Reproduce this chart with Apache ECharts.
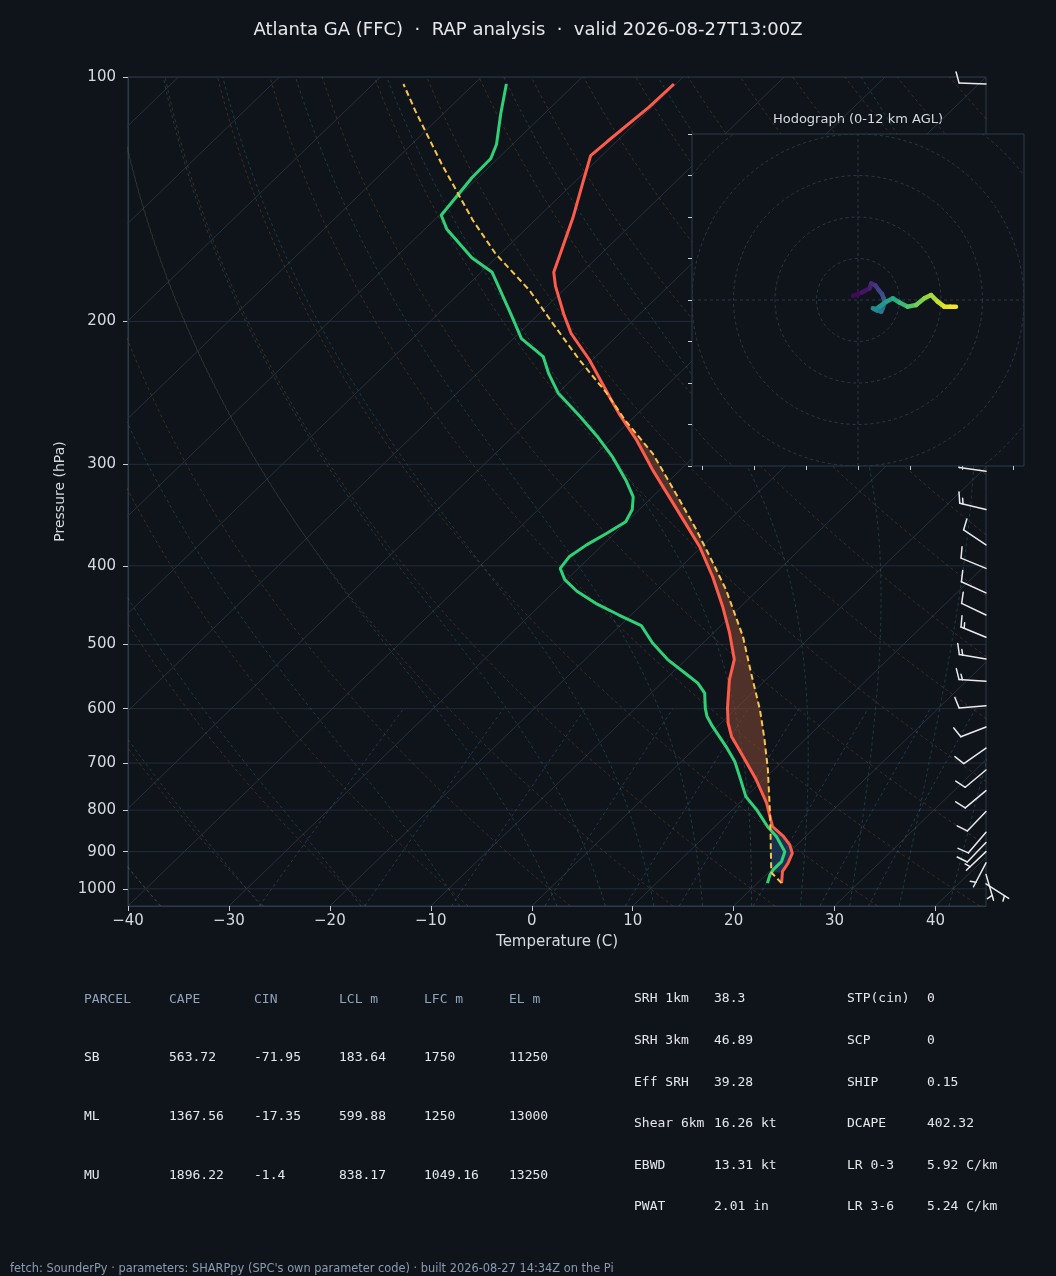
<!DOCTYPE html>
<html><head><meta charset="utf-8">
<script src="https://cdn.jsdelivr.net/npm/echarts@6/dist/echarts.min.js"></script>
<style>html,body{margin:0;padding:0;background:#0f141b;}#c{width:1056px;height:1276px;}</style>
</head><body><div id="c"></div>
<script>
// ---------------- data ----------------
const tempP = [984, 952, 930, 904, 883, 862, 838, 818, 784, 734, 687, 649, 625, 599, 553, 522, 484, 449, 413, 379, 345, 305, 280, 260, 250, 223, 207, 196, 181, 174, 162, 149, 135, 125, 120, 109, 102];
const tempT = [22.4, 21.3, 21.0, 20.4, 19.3, 17.8, 15.7, 14.6, 12.7, 9.3, 5.6, 2.4, 0.7, -0.9, -3.6, -5.2, -8.4, -11.8, -15.8, -20.2, -25.6, -32.7, -37.4, -41.8, -44.0, -50.3, -54.8, -57.5, -61.2, -62.8, -64.5, -66.5, -69.1, -71.1, -70.9, -70.3, -70.2];
const dewP = [984, 961, 947, 926, 900, 862, 838, 799, 770, 727, 697, 668, 631, 613, 599, 574, 558, 543, 522, 498, 474, 460, 445, 430, 416, 403, 390, 377, 365, 353, 341, 329, 314, 294, 277, 262, 245, 232, 221, 210, 195, 174, 167, 154, 148, 133, 126, 121, 111, 102];
const dewT = [21.0, 20.4, 20.2, 20.2, 19.5, 17.1, 15.2, 12.4, 10.0, 7.3, 5.3, 2.9, -0.5, -2.1, -3.1, -4.7, -6.4, -8.6, -11.8, -15.0, -17.9, -21.2, -24.7, -27.8, -30.2, -31.8, -32.1, -31.6, -30.8, -30.1, -30.7, -31.9, -34.3, -38.0, -41.7, -45.4, -50.0, -52.9, -55.2, -59.2, -63.0, -68.9, -72.4, -77.8, -79.8, -80.6, -80.7, -81.6, -84.3, -86.8];
const parcelP = [984, 955, 818, 713, 655, 602, 543, 489, 428, 397, 361, 326, 291, 265, 245, 223, 201, 183, 165, 150, 128, 110, 102];
const parcelT = [22.4, 20.3, 14.6, 9.4, 6.0, 2.5, -2.1, -6.7, -13.2, -17.2, -22.3, -28.0, -34.4, -40.5, -45.2, -51.3, -57.7, -63.4, -70.5, -76.2, -85.0, -93.1, -97.0];
// wind barbs (kt)
const windP = [102, 306, 341, 377, 403, 432, 460, 490, 521, 555, 595, 632, 671, 714, 757, 803, 852, 877, 900, 929, 960, 986];
const windU = [10.0, 9.9, 14.6, 8.3, 9.2, 9.1, 9.0, 13.9, 14.8, 15.0, 10.0, 9.3, 8.2, 7.7, 7.7, 6.9, 6.5, 6.9, 3.6, 2.3, -1.4, -4.2];
const windV = [-0.4, -1.4, -3.5, -5.6, -3.8, -4.1, -4.3, -5.7, -2.4, -0.9, 0.8, 3.6, 5.7, 6.4, 6.4, 7.2, 7.6, 7.2, 3.4, 4.4, 4.8, 2.7];
// hodograph
const hodoU = [-1.2, 0.9, 2.8, 3.2, 4.2, 5.0, 5.8, 6.2, 6.4, 6.0, 5.6, 4.5, 3.6, 4.2, 5.2, 6.8, 8.4, 10.0, 12.0, 14.0, 16.0, 17.6, 19.2, 20.8, 22.2, 23.6];
const hodoV = [1.0, 1.8, 2.8, 4.0, 3.5, 2.4, 1.4, 0.4, -0.7, -1.9, -2.8, -2.5, -2.0, -2.2, -1.6, -0.4, 0.4, -0.6, -1.6, -1.2, 0.4, 1.2, -0.4, -1.6, -1.6, -1.6];
const hodoH = [0, 0.4, 0.8, 1.2, 1.7, 2.2, 2.7, 3.1, 3.5, 4.0, 4.5, 5.0, 5.4, 5.7, 6.0, 6.5, 7.0, 7.7, 8.4, 9.2, 9.8, 10.2, 10.8, 11.3, 11.7, 12.0];
const hodoRings = [10, 20, 30, 40, 50];
const hodoXTicks = [-37.5, -25, -12.5, 0, 12.5, 25, 37.5];
const hodoYTicks = [-40, -30, -20, -10, 0, 10, 20, 30, 40];
// axes
const xTicks = [-40, -30, -20, -10, 0, 10, 20, 30, 40];
const pTicks = [100, 200, 300, 400, 500, 600, 700, 800, 900, 1000];
// background line families (MetPy defaults)
const isoT = [-130, -120, -110, -100, -90, -80, -70, -60, -50, -40, -30, -20, -10, 0, 10, 20, 30, 40];
const dryT0 = [-40, -30, -20, -10, 0, 10, 20, 30, 40, 50, 60, 70, 80, 90, 100, 110, 120, 130, 140, 150, 160, 170, 180, 190, 200, 210, 220, 230, 240];
const moistT0 = [-40, -30, -20, -10, 0, 5, 10, 15, 20, 25, 30, 35, 40, 45, 50, 55, 60, 65, 70, 75, 80, 85, 90, 95];
const mixW = [0.0004, 0.001, 0.002, 0.004, 0.007, 0.01, 0.016, 0.024, 0.032];
// tables
const parcelHead = ['PARCEL', 'CAPE', 'CIN', 'LCL m', 'LFC m', 'EL m'];
const parcelRows = [
  ['SB', '563.72', '-71.95', '183.64', '1750', '11250'],
  ['ML', '1367.56', '-17.35', '599.88', '1250', '13000'],
  ['MU', '1896.22', '-1.4', '838.17', '1049.16', '13250']
];
const paramRows = [
  ['SRH 1km', '38.3', 'STP(cin)', '0'],
  ['SRH 3km', '46.89', 'SCP', '0'],
  ['Eff SRH', '39.28', 'SHIP', '0.15'],
  ['Shear 6km', '16.26 kt', 'DCAPE', '402.32'],
  ['EBWD', '13.31 kt', 'LR 0-3', '5.92 C/km'],
  ['PWAT', '2.01 in', 'LR 3-6', '5.24 C/km']
];
const titleText = 'Atlanta GA (FFC)  \u00b7  RAP analysis  \u00b7  valid 2026-08-27T13:00Z';
const footerText = "fetch: SounderPy \u00b7 parameters: SHARPpy (SPC's own parameter code) \u00b7 built 2026-08-27 14:34Z on the Pi";

// ---------------- geometry helpers ----------------
const P_BOT = 1050, P_TOP = 100, XMIN = -40, XMAX = 45;
const LOGB = Math.log10(P_BOT), LOGT = Math.log10(P_TOP);
function skewX(T, p) { return T + (XMAX - XMIN) * (LOGB - Math.log10(p)) / (LOGB - LOGT); }
function pt(T, p) { return [skewX(T, p), Math.log10(p)]; }
const BG = '#0f141b';
const FRAME = '#2f3a48';
const TXT = '#d6dae0';

const pLine = [];
for (let i = 0; i <= 60; i++) pLine.push(Math.pow(10, LOGB - (LOGB - LOGT) * i / 60));

// physics for reference lines
const RD = 287.04749, CP = 1004.6662, LV = 2.50084e6, EPS = 0.6219569;
function dTdp(p, T) {
  const es = 6.112 * Math.exp(17.67 * (T - 273.15) / (T - 29.65));
  const rs = EPS * es / (p - es);
  return (RD * T + LV * rs) / (CP + LV * LV * rs * EPS / (RD * T * T)) / p;
}
function moistT(t0, p) {
  let T = t0 + 273.15, pc = 1000;
  const n = Math.max(1, Math.ceil(Math.abs(p - pc) / 4));
  const h = (p - pc) / n;
  for (let k = 0; k < n; k++) {
    const k1 = dTdp(pc, T), k2 = dTdp(pc + h / 2, T + h * k1 / 2), k3 = dTdp(pc + h / 2, T + h * k2 / 2), k4 = dTdp(pc + h, T + h * k3);
    T += h * (k1 + 2 * k2 + 2 * k3 + k4) / 6; pc += h;
  }
  return T - 273.15;
}
function mixTd(w, p) {
  const e = p * w / (EPS + w); const l = Math.log(e / 6.112);
  return 243.5 * l / (17.67 - l);
}

const series = [];
function bgLine(data, color, dashed, width) {
  series.push({ type: 'line', xAxisIndex: 0, yAxisIndex: 0, data, symbol: 'none', silent: true, z: 1,
    lineStyle: { color, width: width || 1, type: dashed ? [3, 3] : 'solid' }, animation: false });
}
pTicks.forEach(p => bgLine([[XMIN, Math.log10(p)], [XMAX, Math.log10(p)]], '#232c38', false, 1));
isoT.forEach(T => bgLine([pt(T, P_BOT), pt(T, P_TOP)], '#28313d', false, 1));
dryT0.forEach(t0 => bgLine(pLine.map(p => pt((t0 + 273.15) * Math.pow(p / 1000, 0.2857) - 273.15, p)), 'rgba(170,110,60,0.3)', true, 1));
moistT0.forEach(t0 => bgLine(pLine.map(p => pt(moistT(t0, p), p)), 'rgba(70,140,150,0.32)', true, 1));
const mixP = []; for (let i = 0; i <= 10; i++) mixP.push(P_BOT - (P_BOT - 600) * i / 10);
mixW.forEach(w => bgLine(mixP.map(p => pt(mixTd(w, p), p)), 'rgba(80,130,180,0.34)', true, 1));

// ---------------- CAPE / CIN shading ----------------
function interp(P, T, p) {
  for (let i = 0; i < P.length - 1; i++) {
    if (P[i] >= p && p >= P[i + 1]) {
      const f = Math.log(P[i] / p) / Math.log(P[i] / P[i + 1]);
      return T[i] + f * (T[i + 1] - T[i]);
    }
  }
  return p > P[0] ? T[0] : T[T.length - 1];
}
function shade(levels, sign, color) {
  const out = []; let cur = null, prev = null;
  levels.forEach(p => {
    const tp = interp(parcelP, parcelT, p), te = interp(tempP, tempT, p), d = (tp - te) * sign;
    const rec = { p, tp, te, d };
    if (d > 0) {
      if (!cur) { cur = []; if (prev && prev.d <= 0) cur.push(cross(prev, rec)); }
      cur.push(rec);
    } else if (cur) { cur.push(cross(prev, rec)); out.push(cur); cur = null; }
    prev = rec;
  });
  if (cur) out.push(cur);
  return out.map(seg => ({ color, pts: seg.map(r => pt(r.tp, r.p)).concat(seg.slice().reverse().map(r => pt(r.te, r.p))) }));
}
function cross(a, b) {
  const f = a.d / (a.d - b.d);
  const lp = Math.log(a.p) + f * (Math.log(b.p) - Math.log(a.p));
  const t = a.te + f * (b.te - a.te);
  return { p: Math.exp(lp), tp: t, te: t, d: 0 };
}
const allLevels = Array.from(new Set(tempP.concat(parcelP))).sort((a, b) => b - a);
const capePolys = shade(allLevels, 1, 'rgba(135,72,52,0.55)');
let lfcP = 818;
for (let i = 1; i < allLevels.length; i++) {
  const p0 = allLevels[i - 1], p1 = allLevels[i];
  const d0 = interp(parcelP, parcelT, p0) - interp(tempP, tempT, p0), d1 = interp(parcelP, parcelT, p1) - interp(tempP, tempT, p1);
  if (d0 <= 0 && d1 > 0 && p0 < tempP[0]) { const f = d0 / (d0 - d1); lfcP = Math.exp(Math.log(p0) + f * (Math.log(p1) - Math.log(p0))); break; }
}
const cinLevels = allLevels.filter(p => p < tempP[0] && p > lfcP).concat([lfcP]);
const cinPolys = shade(cinLevels, -1, 'rgba(40,75,130,0.5)');
const polys = capePolys.concat(cinPolys);
series.push({ type: 'custom', xAxisIndex: 0, yAxisIndex: 0, z: 3, silent: true, animation: false,
  data: polys.map((q, i) => [0, 2.5, i]),
  renderItem(params, api) {
    const q = polys[params.dataIndex];
    return { type: 'polygon', shape: { points: q.pts.map(c => api.coord(c)) }, style: { fill: q.color } };
  } });

// ---------------- profiles ----------------
series.push({ type: 'line', xAxisIndex: 0, yAxisIndex: 0, z: 5, symbol: 'none', silent: true, animation: false,
  data: dewP.map((p, i) => pt(dewT[i], p)), lineStyle: { color: '#2fd077', width: 3 } });
series.push({ type: 'line', xAxisIndex: 0, yAxisIndex: 0, z: 5, symbol: 'none', silent: true, animation: false,
  data: tempP.map((p, i) => pt(tempT[i], p)), lineStyle: { color: '#ff5b4b', width: 3 } });
series.push({ type: 'line', xAxisIndex: 0, yAxisIndex: 0, z: 6, symbol: 'none', silent: true, animation: false,
  data: parcelP.map((p, i) => pt(parcelT[i], p)), lineStyle: { color: '#f7c548', width: 2, type: [6, 3.5] } });

// ---------------- wind barbs ----------------
const BARB_L = 27;
series.push({ type: 'custom', xAxisIndex: 0, yAxisIndex: 0, z: 8, silent: true, animation: false,
  data: windP.map((p, i) => [XMAX, Math.log10(p), windU[i], windV[i]]),
  renderItem(params, api) {
    const s = api.coord([api.value(0), api.value(1)]);
    const u = api.value(2), v = api.value(3);
    const spd = Math.sqrt(u * u + v * v);
    const r = Math.round(spd / 5) * 5;
    const d = [-u / spd, v / spd];
    const n = [-d[1], d[0]];
    const L = BARB_L, sp = 0.125 * L, fh = 0.4 * L, fw = 0.25 * L;
    const P = (a, b) => [s[0] + a * d[0] + b * n[0], s[1] + a * d[1] + b * n[1]];
    const ch = [];
    const ls = { stroke: '#e8eaed', lineWidth: 1.5, lineCap: 'round' };
    ch.push({ type: 'line', shape: { x1: s[0], y1: s[1], x2: P(L, 0)[0], y2: P(L, 0)[1] }, style: ls });
    let nb = Math.floor(r / 10), half = (r % 10) >= 5;
    let off = L;
    for (let k = 0; k < nb; k++) {
      const a = P(off, 0), b = P(off + fw / 2, fh);
      ch.push({ type: 'line', shape: { x1: a[0], y1: a[1], x2: b[0], y2: b[1] }, style: ls });
      off -= sp;
    }
    if (half) {
      if (nb === 0) off -= 1.5 * sp;
      const a = P(off, 0), b = P(off + fw / 4, fh / 2);
      ch.push({ type: 'line', shape: { x1: a[0], y1: a[1], x2: b[0], y2: b[1] }, style: ls });
    }
    return { type: 'group', children: ch };
  } });

// ---------------- hodograph ----------------
const VIR = ['#440154', '#482475', '#414487', '#355f8d', '#2a788e', '#21918c', '#22a884', '#44bf70', '#7ad151', '#bddf26', '#fde725'];
function hex(c) { return [parseInt(c.slice(1, 3), 16), parseInt(c.slice(3, 5), 16), parseInt(c.slice(5, 7), 16)]; }
function viridis(f) {
  f = Math.max(0, Math.min(1, f)); const x = f * 10, i = Math.min(9, Math.floor(x)), t = x - i;
  const a = hex(VIR[i]), b = hex(VIR[i + 1]);
  return 'rgb(' + a.map((v, k) => Math.round(v + t * (b[k] - v))).join(',') + ')';
}
series.push({ type: 'custom', xAxisIndex: 1, yAxisIndex: 1, z: 20, silent: true, animation: false,
  data: [[0, 0]],
  renderItem(params, api) {
    const tl = api.coord([-40, 40]), br = api.coord([40, -40]);
    const c = api.coord([0, 0]);
    const rect = { x: tl[0], y: tl[1], width: br[0] - tl[0], height: br[1] - tl[1] };
    const dash = { stroke: '#2d3846', lineWidth: 1, lineDash: [3, 3], fill: null };
    const inner = hodoRings.map(rk => ({ type: 'circle', shape: { cx: c[0], cy: c[1], r: api.size([rk, 0])[0] }, style: dash }));
    const h1 = api.coord([-40, 0]), h2 = api.coord([40, 0]), v1 = api.coord([0, -40]), v2 = api.coord([0, 40]);
    inner.push({ type: 'line', shape: { x1: h1[0], y1: h1[1], x2: h2[0], y2: h2[1] }, style: dash });
    inner.push({ type: 'line', shape: { x1: v1[0], y1: v1[1], x2: v2[0], y2: v2[1] }, style: dash });
    return { type: 'group', children: [
      { type: 'rect', shape: rect, style: { fill: BG } },
      { type: 'group', clipPath: { type: 'rect', shape: rect }, children: inner },
      { type: 'rect', shape: rect, style: { fill: null, stroke: FRAME, lineWidth: 1 } }
    ] };
  } });
series.push({ type: 'custom', xAxisIndex: 1, yAxisIndex: 1, z: 22, silent: true, animation: false,
  data: hodoU.slice(0, -1).map((u, i) => [u, hodoV[i], hodoU[i + 1], hodoV[i + 1], (hodoH[i] + hodoH[i + 1]) / 2]),
  renderItem(params, api) {
    const a = api.coord([api.value(0), api.value(1)]), b = api.coord([api.value(2), api.value(3)]);
    return { type: 'line', shape: { x1: a[0], y1: a[1], x2: b[0], y2: b[1] },
      style: { stroke: viridis(api.value(4) / 12), lineWidth: 4.5, lineCap: 'round' } };
  } });

// ---------------- graphic texts ----------------
const graphic = [];
const mono = '13px "DejaVu Sans Mono"';
parcelHead.forEach((t, j) => graphic.push({ type: 'text', x: 84 + 85 * j, y: 1000, style: { text: t, fill: '#8fa3ba', font: mono, textVerticalAlign: 'middle' } }));
parcelRows.forEach((row, i) => row.forEach((t, j) => graphic.push({ type: 'text', x: 84 + 85 * j, y: 1058 + 59 * i, style: { text: t, fill: '#e4e7eb', font: mono, textVerticalAlign: 'middle' } })));
paramRows.forEach((row, i) => row.forEach((t, j) => graphic.push({ type: 'text', x: [634, 714, 847, 927][j], y: 999 + 41.6 * i, style: { text: t, fill: '#e4e7eb', font: mono, textVerticalAlign: 'middle' } })));
graphic.push({ type: 'text', x: 10, y: 1269, style: { text: footerText, fill: '#8b9bb0', font: '11.4px "DejaVu Sans"', textVerticalAlign: 'middle' } });
graphic.push({ type: 'text', x: 858, y: 120, style: { text: 'Hodograph (0-12 km AGL)', fill: TXT, font: '13px "DejaVu Sans"', textAlign: 'center', textVerticalAlign: 'middle' } });

const chart = echarts.init(document.getElementById('c'), null, { renderer: 'canvas' });
chart.setOption({
  backgroundColor: BG,
  animation: false,
  title: { text: titleText, left: 'center', top: 16, textStyle: { color: '#e6e8eb', fontSize: 18, fontWeight: 'normal', fontFamily: 'DejaVu Sans' } },
  grid: [
    { left: 128, top: 77, width: 858, height: 829, show: true, borderColor: FRAME, borderWidth: 1, backgroundColor: 'transparent' },
    { left: 692, top: 134, width: 332, height: 332, show: false }
  ],
  xAxis: [
    { type: 'value', gridIndex: 0, min: XMIN, max: XMAX, position: 'bottom',
      axisLine: { show: true, onZero: false, lineStyle: { color: FRAME } },
      axisTick: { show: true, length: 5, customValues: xTicks, lineStyle: { color: '#c8ccd2' } },
      axisLabel: { customValues: xTicks, color: TXT, fontSize: 15, fontFamily: 'DejaVu Sans', margin: 8, formatter: v => String(v).replace('-', '\u2212') },
      splitLine: { show: false },
      name: 'Temperature (C)', nameLocation: 'middle', nameGap: 29, nameTextStyle: { color: TXT, fontSize: 15, fontFamily: 'DejaVu Sans' } },
    { type: 'value', gridIndex: 1, min: -40, max: 40, position: 'bottom', z: 30,
      axisLine: { show: false, onZero: false },
      axisTick: { show: true, length: 4, customValues: hodoXTicks, lineStyle: { color: '#c8ccd2' } },
      axisLabel: { show: false }, splitLine: { show: false } }
  ],
  yAxis: [
    { type: 'value', gridIndex: 0, min: LOGT, max: LOGB, inverse: true,
      axisLine: { show: true, onZero: false, lineStyle: { color: FRAME } },
      axisTick: { show: true, length: 5, customValues: pTicks.map(p => Math.log10(p)), lineStyle: { color: '#c8ccd2' } },
      axisLabel: { customValues: pTicks.map(p => Math.log10(p)), color: TXT, fontSize: 15, fontFamily: 'DejaVu Sans', margin: 12, formatter: v => String(Math.round(Math.pow(10, v))) },
      splitLine: { show: false },
      name: 'Pressure (hPa)', nameLocation: 'middle', nameGap: 57, nameTextStyle: { color: TXT, fontSize: 14, fontFamily: 'DejaVu Sans' } },
    { type: 'value', gridIndex: 1, min: -40, max: 40, z: 30,
      axisLine: { show: false, onZero: false },
      axisTick: { show: true, length: 4, customValues: hodoYTicks, lineStyle: { color: '#c8ccd2' } },
      axisLabel: { show: false }, splitLine: { show: false } }
  ],
  series,
  graphic
});
</script></body></html>
